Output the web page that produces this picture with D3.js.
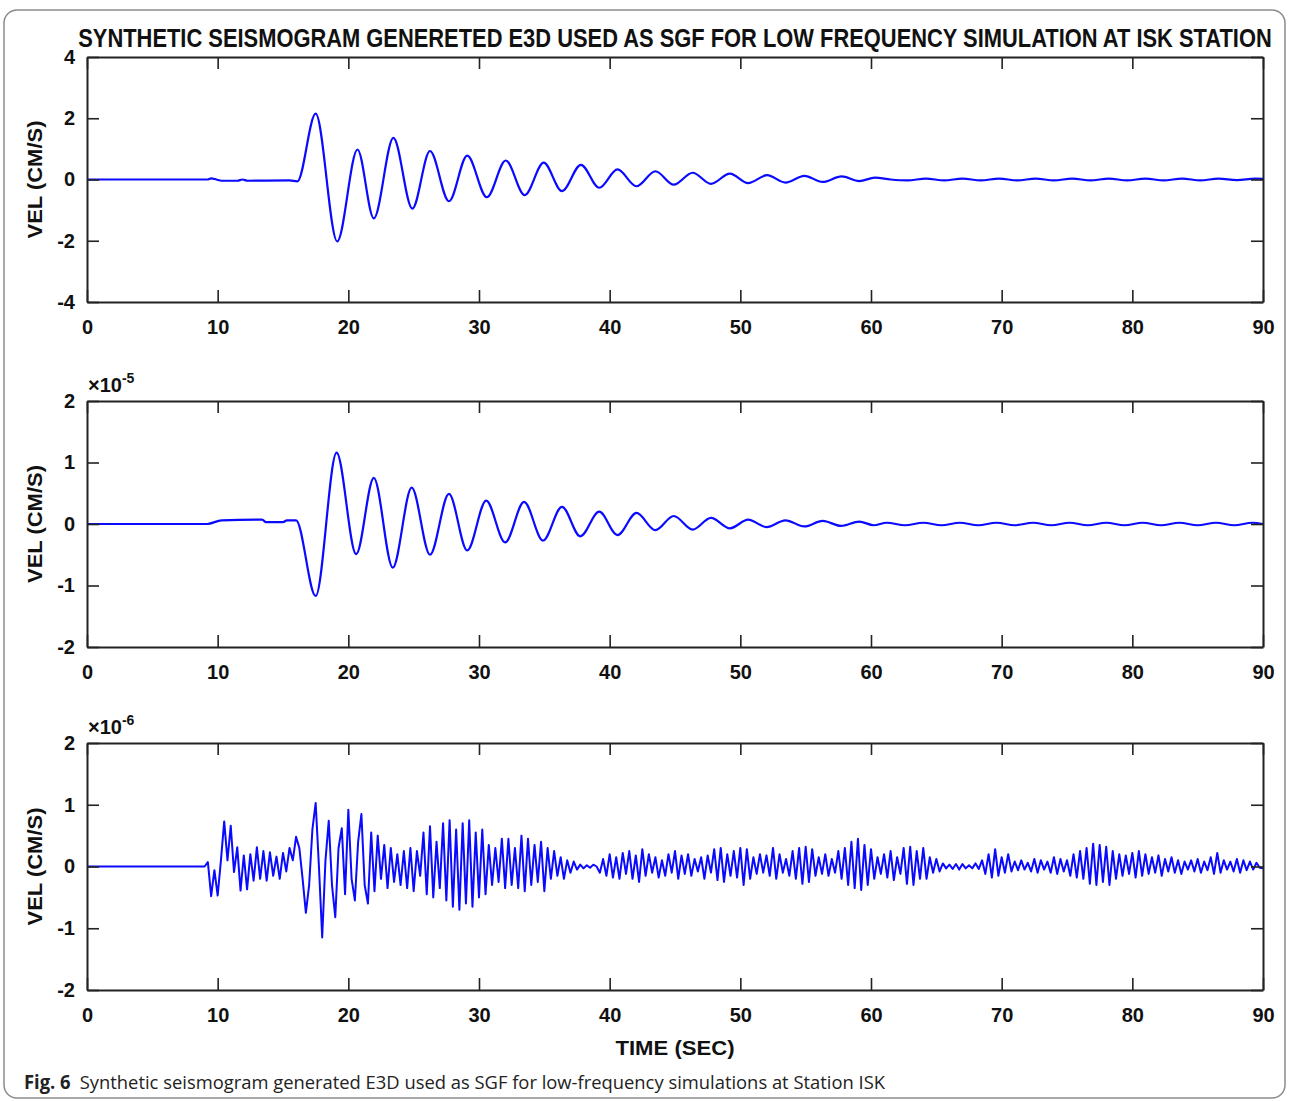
<!DOCTYPE html>
<html><head><meta charset="utf-8">
<script src="https://cdn.jsdelivr.net/npm/d3@7"></script>
<style>body{margin:0;background:#fff}svg{display:block}</style>
</head><body>
<svg id="chart" width="1290" height="1101"></svg>
<script>
// ---------------- DATA ----------------
const titleText = "SYNTHETIC SEISMOGRAM GENERETED E3D USED AS SGF FOR LOW FREQUENCY SIMULATION AT ISK STATION";
const xLabelText = "TIME (SEC)";
const yLabelText = "VEL (CM/S)";
const captionBold = "Fig. 6";
const captionText = "Synthetic seismogram generated E3D used as SGF for low-frequency simulations at Station ISK";
const timeTicks = [0, 10, 20, 30, 40, 50, 60, 70, 80, 90];
const panel1YTicks = [-4, -2, 0, 2, 4];
const panel2YTicks = [-2, -1, 0, 1, 2];
const panel3YTicks = [-2, -1, 0, 1, 2];
const panelExponents = [null, "-5", "-6"];

// Panel 1: velocity (cm/s), [time s, value] at turning points
const panel1Series = [
  [0,0],[9.2,0],[9.5,0.04],[9.9,0],[10.3,-0.04],[11.5,-0.04],[11.9,0],[12.3,-0.04],[15.5,-0.03],[16.1,-0.06],
  [17.5,2.15],[19.15,-2.02],[20.7,0.98],[21.95,-1.27],[23.45,1.36],[24.9,-0.95],[26.25,0.93],[27.7,-0.71],
  [29.1,0.78],[30.6,-0.58],[32.05,0.62],[33.5,-0.51],[34.95,0.55],[36.35,-0.38],[37.8,0.48],[39.2,-0.27],
  [40.6,0.33],[42.05,-0.22],[43.5,0.27],[44.9,-0.17],[46.35,0.22],[47.75,-0.14],[49.2,0.19],[50.6,-0.12],
  [52.05,0.14],[53.45,-0.1],[54.9,0.12],[56.3,-0.08],[57.75,0.1],[59.1,-0.05],[60.3,0.06],[61.5,0.0],
  [62.8,-0.03],[64.2,0.03],[65.6,-0.03],[67.0,0.03],[68.4,-0.03],[69.8,0.03],[71.2,-0.03],[72.6,0.03],
  [74.0,-0.03],[75.4,0.03],[76.8,-0.03],[78.2,0.03],[79.6,-0.03],[81.0,0.03],[82.4,-0.03],[83.8,0.03],
  [85.2,-0.03],[86.6,0.03],[88.0,-0.02],[89.4,0.03],[90,0.02]
];

// Panel 2: velocity (x1e-5 cm/s), [time s, value] at turning points
const panel2Series = [
  [0,0],[9.2,0],[10.3,0.06],[13.4,0.07],[13.7,0.03],[15.0,0.03],[15.3,0.06],[16.0,0.06],
  [17.5,-1.17],[19.1,1.16],[20.6,-0.49],[21.95,0.75],[23.4,-0.71],[24.85,0.59],[26.25,-0.5],[27.7,0.49],
  [29.1,-0.43],[30.55,0.38],[32.0,-0.3],[33.45,0.36],[34.9,-0.27],[36.35,0.28],[37.75,-0.2],[39.2,0.2],
  [40.6,-0.18],[42.05,0.18],[43.5,-0.1],[44.9,0.13],[46.35,-0.09],[47.75,0.1],[49.2,-0.07],[50.6,0.07],
  [52.0,-0.05],[53.45,0.06],[54.9,-0.04],[56.3,0.05],[57.7,-0.03],[59.1,0.04],[60.2,-0.02],[61.2,0.02],
  [62.6,-0.02],[64.0,0.02],[65.4,-0.02],[66.8,0.02],[68.2,-0.02],[69.6,0.02],[71.0,-0.02],[72.4,0.02],
  [73.8,-0.02],[75.2,0.02],[76.6,-0.02],[78.0,0.02],[79.4,-0.02],[80.8,0.02],[82.2,-0.02],[83.6,0.02],
  [85.0,-0.02],[86.4,0.02],[87.8,-0.02],[89.2,0.02],[90,0.0]
];

// Panel 3: velocity (x1e-6 cm/s); flat lead-in then samples every 0.25 s from 9 s
const panel3Lead = [[0,0]];
const panel3Start = 9.0;
const panel3Step = 0.25;
const panel3Values = [
  0,0.07,-0.48,-0.06,  -0.47,0.1,0.73,0.1,  0.66,-0.09,0.31,-0.39,  0.18,-0.37,0.2,-0.23,
  0.31,-0.2,0.25,-0.23,  0.23,-0.15,0.16,-0.2,  0.22,-0.08,0.3,0.1,  0.48,0.3,-0.2,-0.75,
  -0.3,0.6,1.03,0.0,  -1.15,0.1,0.74,-0.3,  -0.82,0.3,0.62,-0.45,  0.92,-0.2,-0.55,0.4,
  0.85,-0.3,-0.6,0.55,  -0.4,0.5,-0.2,0.35,  -0.35,0.3,-0.25,0.2,  -0.3,0.25,-0.35,0.3,
  -0.4,0.25,-0.15,0.55,  -0.45,0.65,-0.5,0.4,  -0.35,0.7,-0.55,0.75,  -0.65,0.6,-0.7,0.7,
  -0.6,0.75,-0.65,0.55,  -0.5,0.6,-0.45,0.35,  -0.3,0.3,-0.25,0.45,  -0.35,0.45,-0.3,0.3,
  -0.35,0.5,-0.4,0.45,  -0.3,0.35,-0.25,0.4,  -0.4,0.3,-0.2,0.25,  -0.15,0.15,-0.2,0.1,
  -0.1,0.08,-0.05,0.03,  -0.03,0.02,-0.02,0.03,  0.0,-0.1,0.12,-0.15,  0.2,-0.18,0.15,-0.2,
  0.22,-0.12,0.25,-0.2,  0.18,-0.25,0.28,-0.15,  0.2,-0.1,0.15,-0.18,  0.1,-0.15,0.2,-0.1,
  0.25,-0.2,0.18,-0.12,  0.2,-0.15,0.12,-0.08,  0.15,-0.2,0.18,-0.1,  0.28,-0.22,0.3,-0.25,
  0.2,-0.15,0.25,-0.18,  0.3,-0.3,0.28,-0.2,  0.15,-0.12,0.2,-0.1,  0.18,-0.15,0.3,-0.2,
  0.2,-0.1,0.12,-0.15,  0.25,-0.2,0.3,-0.28,  0.32,-0.25,0.28,-0.15,  0.15,-0.12,0.2,-0.15,
  0.12,-0.1,0.25,-0.2,  0.3,-0.3,0.4,-0.35,  0.45,-0.38,0.35,-0.3,  0.28,-0.2,0.15,-0.12,
  0.2,-0.18,0.25,-0.22,  0.15,-0.12,0.3,-0.28,  0.32,-0.3,0.25,-0.2,  0.3,-0.2,0.15,-0.1,
  0.12,-0.08,0.05,-0.03,  0.03,-0.04,0.04,-0.05,  0.04,-0.03,0.02,-0.03,  0.05,-0.04,0.1,-0.12,
  0.2,-0.18,0.28,-0.15,  0.15,-0.1,0.2,-0.08,  0.08,-0.06,0.1,-0.05,  0.06,-0.08,0.12,-0.1,
  0.1,-0.05,0.08,-0.1,  0.15,-0.12,0.12,-0.08,  0.1,-0.15,0.2,-0.18,  0.25,-0.2,0.3,-0.28,
  0.37,-0.3,0.35,-0.25,  0.32,-0.3,0.25,-0.2,  0.2,-0.15,0.18,-0.12,  0.22,-0.18,0.25,-0.15,
  0.2,-0.12,0.15,-0.1,  0.18,-0.15,0.12,-0.08,  0.15,-0.1,0.1,-0.12,  0.08,-0.05,0.1,-0.08,
  0.12,-0.1,0.08,-0.06,  0.15,-0.12,0.22,-0.1,  0.1,-0.05,0.08,-0.08,  0.12,-0.1,0.1,-0.06,
  0.08,-0.05,0.06,-0.02,  -0.03
];

// ---------------- DRAW ----------------
const svg = d3.select("#chart");
const left = 87, right = 1263;
const boldFont = "'Liberation Sans', Arial, sans-serif";

// rounded frame
svg.append("rect").attr("x", 4).attr("y", 10).attr("width", 1281).attr("height", 1088)
  .attr("rx", 13).attr("fill", "none").attr("stroke", "#8c8c8c").attr("stroke-width", 1.5);

// title: natural width measured, then horizontally scaled to span the reference width
const titleG = svg.append("g");
const title = titleG.append("text").attr("x", 0).attr("y", 0).attr("text-anchor", "middle")
  .attr("font-family", "'Liberation Sans Narrow', 'Liberation Sans', Arial, sans-serif")
  .attr("font-weight", "bold").attr("font-size", 25)
  .attr("fill", "#111").text(titleText);
const natW = title.node().getComputedTextLength();
titleG.attr("transform", `translate(675,47) scale(${1194 / natW},1)`);

const x = d3.scaleLinear().domain([0, 90]).range([left, right]);

const panel3Series = panel3Lead.concat(panel3Values.map((v, i) => [panel3Start + i * panel3Step, v]));

const panels = [
  { series: panel1Series, ticks: panel1YTicks, domain: [-4, 4], top: 57, bottom: 302, curve: d3.curveMonotoneX, exp: panelExponents[0] },
  { series: panel2Series, ticks: panel2YTicks, domain: [-2, 2], top: 401, bottom: 647, curve: d3.curveMonotoneX, exp: panelExponents[1] },
  { series: panel3Series, ticks: panel3YTicks, domain: [-2, 2], top: 743, bottom: 990, curve: d3.curveLinear, exp: panelExponents[2] }
];

const axisColor = "#222";

panels.forEach((p, idx) => {
  const y = d3.scaleLinear().domain(p.domain).range([p.bottom, p.top]);
  const g = svg.append("g");

  const clipId = "clip" + idx;
  svg.append("clipPath").attr("id", clipId).append("rect")
    .attr("x", left).attr("y", p.top).attr("width", right - left).attr("height", p.bottom - p.top);

  const line = d3.line().x(d => x(d[0])).y(d => y(d[1])).curve(p.curve);
  g.append("path").datum(p.series).attr("d", line)
    .attr("fill", "none").attr("stroke", "#0a0aff").attr("stroke-width", idx === 2 ? 2 : 2.2)
    .attr("stroke-linejoin", "round").attr("clip-path", `url(#${clipId})`);

  const bottomAxis = d3.axisBottom(x).tickValues(timeTicks).tickSizeInner(-12).tickSizeOuter(0).tickPadding(18).tickFormat(d3.format("d"));
  const topAxis = d3.axisTop(x).tickValues(timeTicks).tickSizeInner(-12).tickSizeOuter(0).tickFormat("");
  const leftAxis = d3.axisLeft(y).tickValues(p.ticks).tickSizeInner(-12).tickSizeOuter(0).tickPadding(12).tickFormat(d => d < 0 ? "-" + Math.abs(d) : String(d));
  const rightAxis = d3.axisRight(y).tickValues(p.ticks).tickSizeInner(-12).tickSizeOuter(0).tickFormat("");

  const gb = g.append("g").attr("transform", `translate(0,${p.bottom})`).call(bottomAxis);
  const gt = g.append("g").attr("transform", `translate(0,${p.top})`).call(topAxis);
  const gl = g.append("g").attr("transform", `translate(${left},0)`).call(leftAxis);
  const gr = g.append("g").attr("transform", `translate(${right},0)`).call(rightAxis);

  [gb, gt, gl, gr].forEach(a => {
    a.select(".domain").attr("stroke", axisColor).attr("stroke-width", 2);
    a.selectAll(".tick line").attr("stroke", axisColor).attr("stroke-width", 1.6);
    a.selectAll("text").attr("font-family", boldFont).attr("font-weight", "bold")
      .attr("font-size", 20).attr("fill", "#111");
  });

  svg.append("text")
    .attr("transform", `translate(42,${(p.top + p.bottom) / 2}) rotate(-90)`)
    .attr("text-anchor", "middle")
    .attr("font-family", boldFont).attr("font-weight", "bold").attr("font-size", 21)
    .attr("textLength", 118).attr("lengthAdjust", "spacingAndGlyphs")
    .attr("fill", "#111").text(yLabelText);

  if (p.exp) {
    const t = svg.append("text").attr("x", 88).attr("y", p.top - 9)
      .attr("font-family", boldFont).attr("font-weight", "bold").attr("font-size", 20).attr("fill", "#111");
    t.append("tspan").text("\u00d710");
    t.append("tspan").attr("font-size", 14).attr("dy", -9).text(p.exp);
  }
});

svg.append("text").attr("x", 675).attr("y", 1055).attr("text-anchor", "middle")
  .attr("font-family", boldFont).attr("font-weight", "bold").attr("font-size", 21)
  .attr("textLength", 119).attr("lengthAdjust", "spacingAndGlyphs")
  .attr("fill", "#111").text(xLabelText);

const cap = svg.append("text").attr("x", 24).attr("y", 1089)
  .attr("font-family", "'Open Sans', 'Noto Sans', sans-serif").attr("font-size", 19).attr("fill", "#222")
  .attr("textLength", 861).attr("lengthAdjust", "spacingAndGlyphs");
cap.append("tspan").attr("font-weight", "bold").text(captionBold);
cap.append("tspan").text("\u2002" + captionText);
</script>
</body></html>
